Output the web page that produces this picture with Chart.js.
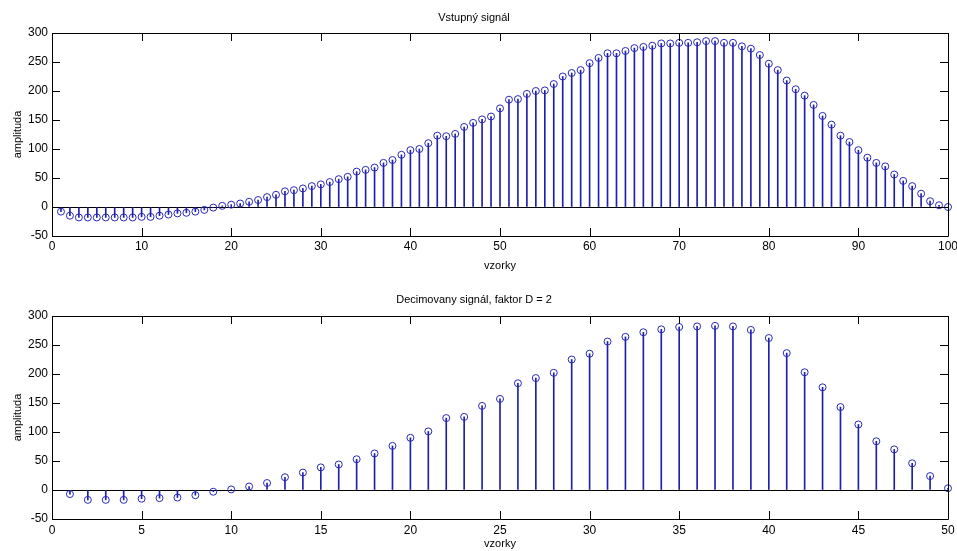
<!DOCTYPE html>
<html><head><meta charset="utf-8">
<script src="https://cdn.jsdelivr.net/npm/chart.js@4/dist/chart.umd.min.js"></script>
<style>
html,body{margin:0;padding:0;background:#fff;}
#wrap{position:relative;width:957px;height:551px;background:#fff;}
#c1wrap{position:absolute;left:0;top:0;width:957px;height:283px;}
#c2wrap{position:absolute;left:0;top:283px;width:957px;height:268px;}
</style></head><body>
<div id="wrap"><div id="c1wrap"><canvas id="c1"></canvas></div><div id="c2wrap"><canvas id="c2"></canvas></div></div>
<script>
// ---- data ----
const inputSamples = [1,2,3,4,5,6,7,8,9,10,11,12,13,14,15,16,17,18,19,20,21,22,23,24,25,26,27,28,29,30,31,32,33,34,35,36,37,38,39,40,41,42,43,44,45,46,47,48,49,50,51,52,53,54,55,56,57,58,59,60,61,62,63,64,65,66,67,68,69,70,71,72,73,74,75,76,77,78,79,80,81,82,83,84,85,86,87,88,89,90,91,92,93,94,95,96,97,98,99,100];
const inputValues = [-8,-15,-18,-18,-18,-18,-18,-18,-18,-17,-17,-15,-13,-11,-10,-8,-5,-1,2,4,6,9,12,17,21,27,29,32,36,39,43,48,52,61,64,68,76,81,90,98,100,110,123,122,126,138,145,151,156,170,185,186,195,200,201,212,225,231,236,248,257,265,265,269,274,276,278,282,282,283,283,284,286,286,283,283,277,273,262,247,236,218,203,192,176,157,142,123,112,98,85,76,70,56,45,36,23,10,3,0];
const decimSamples = [1,2,3,4,5,6,7,8,9,10,11,12,13,14,15,16,17,18,19,20,21,22,23,24,25,26,27,28,29,30,31,32,33,34,35,36,37,38,39,40,41,42,43,44,45,46,47,48,49,50];
const decimValues = [-7,-17,-17,-17,-15,-14,-13,-9,-3,1,6,12,22,30,39,44,53,63,76,90,101,124,126,145,157,184,193,202,225,235,256,264,272,277,281,282,283,282,276,262,236,203,177,143,113,84,70,46,24,3];
const yTicks = {min: -50, max: 300, step: 50};
const topX = {min: 0, max: 100, step: 10};
const botX = {min: 0, max: 50, step: 5};
const titles = ['Vstupný signál', 'Decimovany signál, faktor D = 2'];
const xLabel = 'vzorky';
const yLabel = 'amplituda';

Chart.defaults.font.family = '"Liberation Sans", Arial, Helvetica, sans-serif';
Chart.defaults.color = '#000';
Chart.defaults.animation = false;

const STEM = '#1f1fae';
const MARK = '#2828b8';

const matlabAxes = {
  id: 'matlabAxes',
  afterDraw(chart) {
    const {ctx, chartArea: a, scales: {x, y}} = chart;
    const L = 8;
    ctx.save();
    ctx.strokeStyle = '#000';
    ctx.lineWidth = 1;
    ctx.beginPath();
    ctx.rect(Math.round(a.left) + 0.5, Math.round(a.top) + 0.5, Math.round(a.right - a.left), Math.round(a.bottom - a.top));
    x.ticks.forEach(t => {
      const p = Math.round(x.getPixelForValue(t.value)) + 0.5;
      ctx.moveTo(p, a.bottom); ctx.lineTo(p, a.bottom - L);
      ctx.moveTo(p, a.top); ctx.lineTo(p, a.top + L);
    });
    y.ticks.forEach(t => {
      const p = Math.round(y.getPixelForValue(t.value)) + 0.5;
      ctx.moveTo(a.left, p); ctx.lineTo(a.left + L, p);
      ctx.moveTo(a.right, p); ctx.lineTo(a.right - L, p);
    });
    ctx.stroke();
    ctx.restore();
  }
};

function makeChart(id, xs, ys, xr, title, xAxisH, titlePad, xTitleBottom, xTickPad) {
  const pts = xs.map((v, i) => ({x: v, y: ys[i]}));
  return new Chart(document.getElementById(id), {
    type: 'bar',
    data: {
      datasets: [
        {type: 'bar', data: pts, backgroundColor: STEM, borderWidth: 0, barThickness: 1, grouped: false, order: 2},
        {type: 'line', data: pts, showLine: false, pointStyle: 'circle', pointRadius: 3.5, pointHoverRadius: 3.5,
         pointBackgroundColor: 'rgba(0,0,0,0)', pointBorderColor: MARK, pointBorderWidth: 1, clip: false, order: 1}
      ]
    },
    options: {
      responsive: true, maintainAspectRatio: false, animation: false,
      events: [],
      layout: {padding: {left: 0, right: 9, top: 0, bottom: 0}},
      plugins: {
        legend: {display: false}, tooltip: {enabled: false},
        title: {display: true, text: title, font: {size: 11, weight: 'normal'}, color: '#000', padding: titlePad}
      },
      scales: {
        x: {
          type: 'linear', min: xr.min, max: xr.max, offset: false,
          ticks: {stepSize: xr.step, font: {size: 12}, padding: xTickPad, maxRotation: 0, autoSkip: false},
          grid: {display: false, drawTicks: false},
          border: {display: false},
          title: {display: true, text: xLabel, font: {size: 11}, padding: {top: 0, bottom: xTitleBottom}},
          afterFit: s => { s.height = xAxisH; s.paddingLeft = 0; s.paddingRight = 0; }
        },
        y: {
          min: yTicks.min, max: yTicks.max,
          ticks: {stepSize: yTicks.step, font: {size: 12}, padding: 4},
          grid: {drawTicks: false, lineWidth: 1,
                 color: c => (c.tick && c.tick.value === 0) ? '#000' : 'rgba(0,0,0,0)'},
          border: {display: false},
          title: {display: true, text: yLabel, font: {size: 11}, padding: {top: 11, bottom: 0}},
          afterFit: s => { s.width = 52; s.paddingTop = 0; s.paddingBottom = 0; }
        }
      }
    },
    plugins: [matlabAxes]
  });
}

makeChart('c1', inputSamples, inputValues, topX, titles[0], 47, {top: 11, bottom: 8.8}, 10, 3);
makeChart('c2', decimSamples, decimValues, botX, titles[1], 32, {top: 10, bottom: 9.8}, 0, 4);
</script>
</body></html>
